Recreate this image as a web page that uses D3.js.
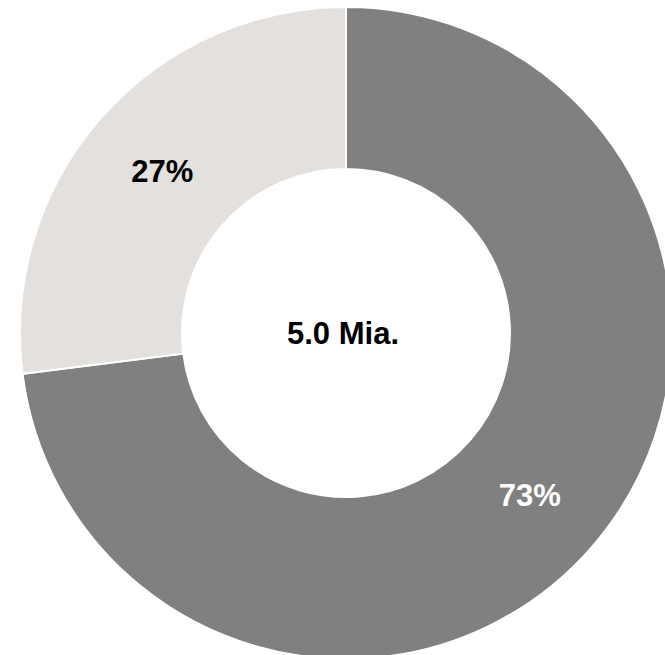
<!DOCTYPE html>
<html>
<head>
<meta charset="utf-8">
<script src="https://cdn.jsdelivr.net/npm/d3@7"></script>
<style>
  html, body { margin: 0; padding: 0; background: #ffffff; }
  svg { display: block; }
  text { font-family: "Liberation Sans", Arial, sans-serif; font-weight: bold; }
</style>
</head>
<body>
<script>
// Share of total, in percent
const categories = ["A", "B"];
const values = [73, 27];
const sliceColors = ["#808080", "#e3e0dd"];
const labelColors = ["#ffffff", "#000000"];
const centerLabel = "5.0 Mia.";

const width = 665, height = 655;
const cx = 346, cy = 333;
const outerR = 326, innerR = 164;

const svg = d3.select("body").append("svg")
  .attr("width", width)
  .attr("height", height);

const g = svg.append("g").attr("transform", `translate(${cx},${cy})`);

const pie = d3.pie().sort(null).value(d => d.value);
const arc = d3.arc().innerRadius(innerR).outerRadius(outerR);

const data = categories.map((c, i) => ({ name: c, value: values[i], i }));
const arcs = pie(data);

g.selectAll("path.slice")
  .data(arcs)
  .join("path")
  .attr("class", "slice")
  .attr("d", arc)
  .attr("fill", d => sliceColors[d.data.i])
  .attr("stroke", "#ffffff")
  .attr("stroke-width", 2)
  .attr("stroke-linejoin", "miter");

g.selectAll("text.pct")
  .data(arcs)
  .join("text")
  .attr("class", "pct")
  .attr("transform", d => `translate(${arc.centroid(d)})`)
  .attr("text-anchor", "middle")
  .attr("dy", "0.36em")
  .attr("font-size", 31)
  .attr("fill", d => labelColors[d.data.i])
  .text(d => d.data.value + "%");

g.append("text")
  .attr("x", -3)
  .attr("text-anchor", "middle")
  .attr("dy", "0.36em")
  .attr("font-size", 31)
  .attr("fill", "#000000")
  .text(centerLabel);
</script>
</body>
</html>
